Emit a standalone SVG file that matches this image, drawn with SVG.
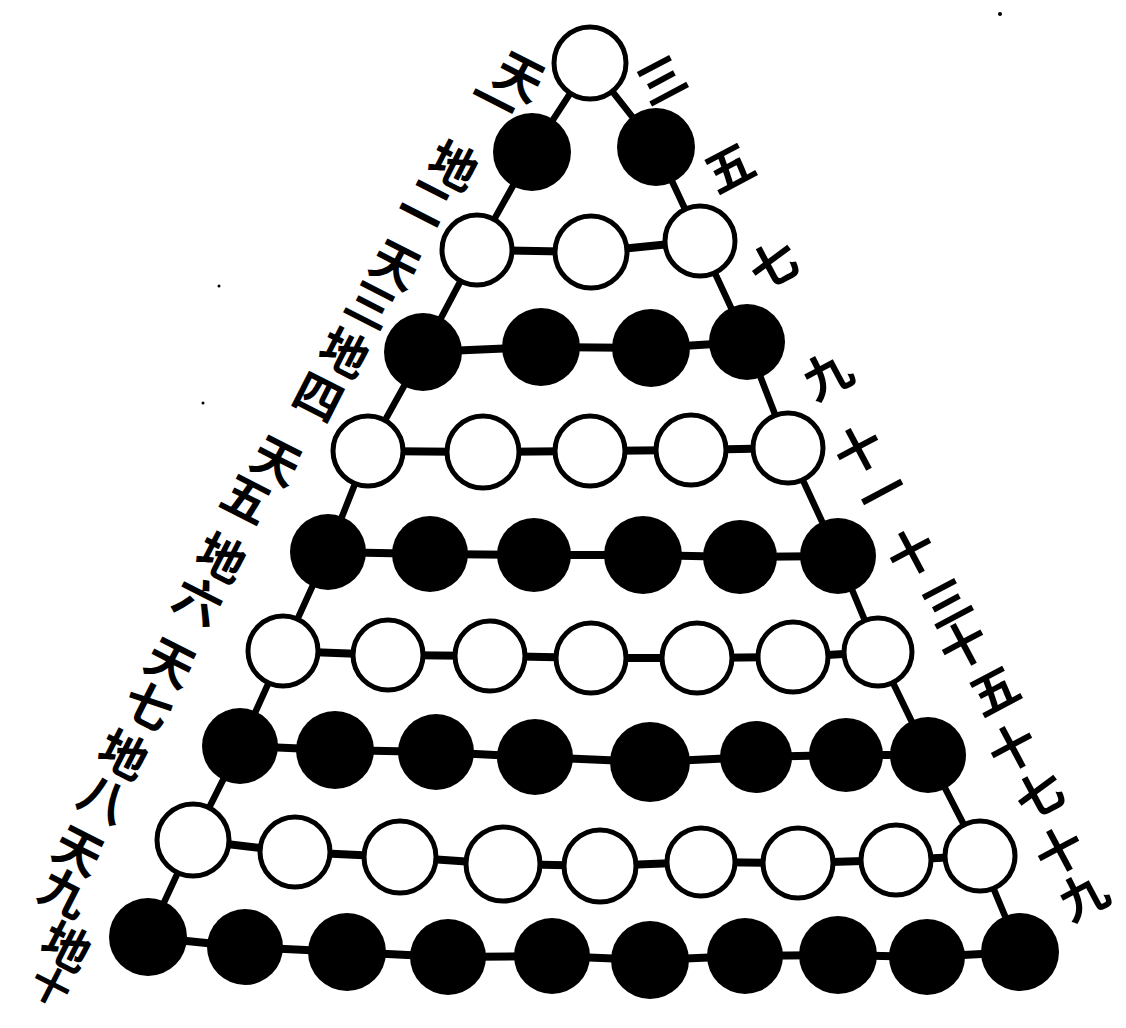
<svg xmlns="http://www.w3.org/2000/svg" width="1126" height="1028" viewBox="0 0 1126 1028">
<style>
.b{fill:#000}
.w{fill:#fff;stroke:#000;stroke-width:5}
.h{stroke:#000;stroke-width:8;stroke-linecap:round;fill:none}
.d{stroke:#000;stroke-width:6.5;stroke-linecap:round;fill:none}
.t{font-family:"Noto Sans CJK SC","Noto Sans CJK TC",sans-serif;font-weight:700;font-size:48px;fill:#000;text-anchor:middle;dominant-baseline:central}
</style>
<rect width="1126" height="1028" fill="#fff"/>
<g id="connectors">
<polyline class="d" points="590,63 532,152 477,250 423,352 368,451 328,552 283,651 240,746 193,840 148,937"/>
<polyline class="d" points="590,63 656,147 700,241 747,342 788,448 838,556 878,652 928,755 980,856 1020,952"/>
<polyline class="h" points="477,250 591,252 700,241"/>
<polyline class="h" points="423,352 541,347 651,348 747,342"/>
<polyline class="h" points="368,451 483,452 590,451 691,450 788,448"/>
<polyline class="h" points="328,552 430,554 534,555 643,555 740,557 838,556"/>
<polyline class="h" points="283,651 388,655 490,656 591,658 697,658 793,657 878,652"/>
<polyline class="h" points="240,746 335,750 436,752 535,757 650,762 756,757 846,755 928,755"/>
<polyline class="h" points="193,840 295,852 400,857 503,864 600,866 701,862 798,863 896,860 980,856"/>
<polyline class="h" points="148,937 245,947 347,952 448,957 552,956 650,960 745,956 838,955 927,957 1020,952"/>
</g>
<g id="row1"><g id="n1-1"><circle class="w" cx="590" cy="63" r="36"/></g></g>
<g id="row2">
<g id="n2-1"><circle class="b" cx="532" cy="152" r="39"/></g>
<g id="n2-2"><circle class="b" cx="656" cy="147" r="39"/></g>
</g>
<g id="row3">
<g id="n3-1"><circle class="w" cx="477" cy="250" r="35"/></g>
<g id="n3-2"><circle class="w" cx="591" cy="252" r="36"/></g>
<g id="n3-3"><circle class="w" cx="700" cy="241" r="35"/></g>
</g>
<g id="row4">
<g id="n4-1"><circle class="b" cx="423" cy="352" r="39"/></g>
<g id="n4-2"><circle class="b" cx="541" cy="347" r="39"/></g>
<g id="n4-3"><circle class="b" cx="651" cy="348" r="39"/></g>
<g id="n4-4"><circle class="b" cx="747" cy="342" r="38"/></g>
</g>
<g id="row5">
<g id="n5-1"><circle class="w" cx="368" cy="451" r="35"/></g>
<g id="n5-2"><circle class="w" cx="483" cy="452" r="36"/></g>
<g id="n5-3"><circle class="w" cx="590" cy="451" r="35"/></g>
<g id="n5-4"><circle class="w" cx="691" cy="450" r="35"/></g>
<g id="n5-5"><circle class="w" cx="788" cy="448" r="35"/></g>
</g>
<g id="row6">
<g id="n6-1"><circle class="b" cx="328" cy="552" r="38"/></g>
<g id="n6-2"><circle class="b" cx="430" cy="554" r="38"/></g>
<g id="n6-3"><circle class="b" cx="534" cy="555" r="37"/></g>
<g id="n6-4"><circle class="b" cx="643" cy="555" r="39"/></g>
<g id="n6-5"><circle class="b" cx="740" cy="557" r="37"/></g>
<g id="n6-6"><circle class="b" cx="838" cy="556" r="38"/></g>
</g>
<g id="row7">
<g id="n7-1"><circle class="w" cx="283" cy="651" r="35"/></g>
<g id="n7-2"><circle class="w" cx="388" cy="655" r="35"/></g>
<g id="n7-3"><circle class="w" cx="490" cy="656" r="35"/></g>
<g id="n7-4"><circle class="w" cx="591" cy="658" r="35"/></g>
<g id="n7-5"><circle class="w" cx="697" cy="658" r="35"/></g>
<g id="n7-6"><circle class="w" cx="793" cy="657" r="35"/></g>
<g id="n7-7"><circle class="w" cx="878" cy="652" r="34"/></g>
</g>
<g id="row8">
<g id="n8-1"><circle class="b" cx="240" cy="746" r="38"/></g>
<g id="n8-2"><circle class="b" cx="335" cy="750" r="39"/></g>
<g id="n8-3"><circle class="b" cx="436" cy="752" r="38"/></g>
<g id="n8-4"><circle class="b" cx="535" cy="757" r="38"/></g>
<g id="n8-5"><circle class="b" cx="650" cy="762" r="40"/></g>
<g id="n8-6"><circle class="b" cx="756" cy="757" r="36"/></g>
<g id="n8-7"><circle class="b" cx="846" cy="755" r="37"/></g>
<g id="n8-8"><circle class="b" cx="928" cy="755" r="38"/></g>
</g>
<g id="row9">
<g id="n9-1"><circle class="w" cx="193" cy="840" r="36"/></g>
<g id="n9-2"><circle class="w" cx="295" cy="852" r="35"/></g>
<g id="n9-3"><circle class="w" cx="400" cy="857" r="36"/></g>
<g id="n9-4"><circle class="w" cx="503" cy="864" r="37"/></g>
<g id="n9-5"><circle class="w" cx="600" cy="866" r="36"/></g>
<g id="n9-6"><circle class="w" cx="701" cy="862" r="34"/></g>
<g id="n9-7"><circle class="w" cx="798" cy="863" r="35"/></g>
<g id="n9-8"><circle class="w" cx="896" cy="860" r="35"/></g>
<g id="n9-9"><circle class="w" cx="980" cy="856" r="35"/></g>
</g>
<g id="row10">
<g id="n10-1"><circle class="b" cx="148" cy="937" r="39"/></g>
<g id="n10-2"><circle class="b" cx="245" cy="947" r="38"/></g>
<g id="n10-3"><circle class="b" cx="347" cy="952" r="39"/></g>
<g id="n10-4"><circle class="b" cx="448" cy="957" r="38"/></g>
<g id="n10-5"><circle class="b" cx="552" cy="956" r="38"/></g>
<g id="n10-6"><circle class="b" cx="650" cy="960" r="39"/></g>
<g id="n10-7"><circle class="b" cx="745" cy="956" r="38"/></g>
<g id="n10-8"><circle class="b" cx="838" cy="955" r="39"/></g>
<g id="n10-9"><circle class="b" cx="927" cy="957" r="38"/></g>
<g id="n10-10"><circle class="b" cx="1020" cy="952" r="39"/></g>
</g>
<g id="labels-left">
<g id="l1"><text class="t" transform="translate(521,74) rotate(27)">天</text><text class="t" transform="translate(495,99) rotate(27)">一</text></g>
<g id="l2"><text class="t" transform="translate(455,163) rotate(27)">地</text><text class="t" transform="translate(428,199) rotate(27)">二</text></g>
<g id="l3"><text class="t" transform="translate(397,262) rotate(27)">天</text><text class="t" transform="translate(372,302) rotate(27)">三</text></g>
<g id="l4"><text class="t" transform="translate(346,350) rotate(27)">地</text><text class="t" transform="translate(320,394) rotate(27)">四</text></g>
<g id="l5"><text class="t" transform="translate(278,458) rotate(27)">天</text><text class="t" transform="translate(248,496) rotate(27)">五</text></g>
<g id="l6"><text class="t" transform="translate(223,555) rotate(27)">地</text><text class="t" transform="translate(200,598) rotate(27)">六</text></g>
<g id="l7"><text class="t" transform="translate(172,660) rotate(27)">天</text><text class="t" transform="translate(150,703) rotate(27)">七</text></g>
<g id="l8"><text class="t" transform="translate(125,752) rotate(27)">地</text><text class="t" transform="translate(105,796) rotate(27)">八</text></g>
<g id="l9"><text class="t" transform="translate(80,848) rotate(27)">天</text><text class="t" transform="translate(66,890) rotate(27)">九</text></g>
<g id="l10"><text class="t" transform="translate(68,944) rotate(27)">地</text><text class="t" transform="translate(52,984) rotate(27)" style="font-size:40px">十</text></g>
</g>
<g id="labels-right">
<g id="r3"><text class="t" transform="translate(660,77) rotate(-28)">三</text></g>
<g id="r5"><text class="t" transform="translate(728,165) rotate(-28)">五</text></g>
<g id="r7"><text class="t" transform="translate(772,262) rotate(-28)">七</text></g>
<g id="r9"><text class="t" transform="translate(826,372) rotate(-28)">九</text></g>
<g id="r11"><text class="t" transform="translate(857,447) rotate(-28)">十</text><text class="t" transform="translate(881,490) rotate(-28)">一</text></g>
<g id="r13"><text class="t" transform="translate(910,550) rotate(-28)">十</text><text class="t" transform="translate(945,600) rotate(-28)">三</text></g>
<g id="r15"><text class="t" transform="translate(962,642) rotate(-28)">十</text><text class="t" transform="translate(993,688) rotate(-28)">五</text></g>
<g id="r17"><text class="t" transform="translate(1011,745) rotate(-28)">十</text><text class="t" transform="translate(1038,792) rotate(-28)">七</text></g>
<g id="r19"><text class="t" transform="translate(1058,848) rotate(-28)">十</text><text class="t" transform="translate(1082,893) rotate(-28)">九</text></g>
</g>
<g id="specks" fill="#000">
<circle cx="1000" cy="14" r="2"/>
<circle cx="219" cy="286" r="1.5"/>
<circle cx="203" cy="403" r="1.5"/>
</g>
</svg>
